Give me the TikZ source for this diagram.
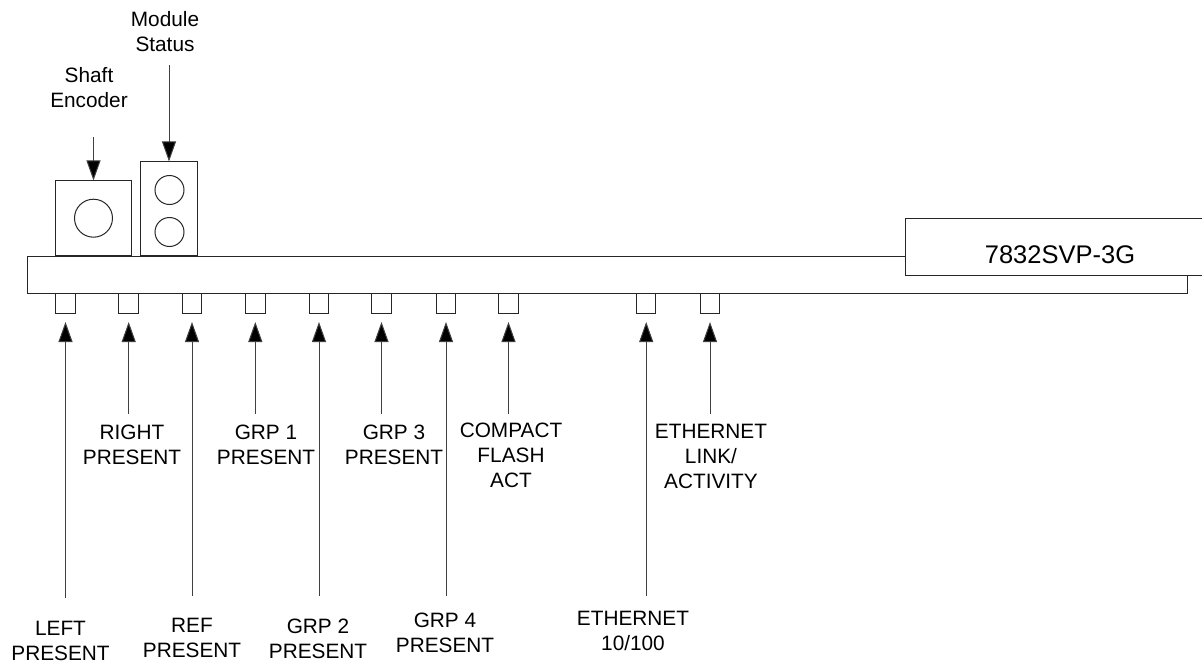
\documentclass[tikz,border=0pt]{standalone}
\usepackage{fontspec}
\setmainfont{Liberation Sans}
\usetikzlibrary{arrows.meta}
\tikzset{
  x=1pt,y=-1pt,
  part/.style={draw=black!85,line width=1pt,fill=white,inner sep=0pt,outer sep=0pt},
  led/.style={part,minimum width=19.5pt,minimum height=19.5pt},
  knob/.style={part,circle},
  lab/.style={align=center,inner sep=0pt,font=\fontsize{20.8}{25}\selectfont},
  arr/.style={draw=black!75,line width=1pt,-{Triangle[length=20pt,width=14pt,fill=black]}},
}
\begin{document}
\begin{tikzpicture}
\useasboundingbox (0,0) rectangle (1202,664);
\node[part,minimum width=1160pt,minimum height=37.5pt] (bar) at (607.5,275) {};
\node[part,minimum width=320pt,minimum height=57pt] (card) at (1065,246.5) {};
\node[font=\fontsize{25.5}{28}\selectfont,inner sep=0pt] (cardtxt) at (1060,255) {7832SVP-3G};
\node[part,minimum width=75.5pt,minimum height=75.5pt] (shaft) at (93.5,218.2) {};
\node[knob,minimum size=38pt] (shaftk) at (93.5,218.2) {};
\node[part,minimum width=56.5pt,minimum height=94.5pt] (mod) at (169,208.7) {};
\node[knob,minimum size=29pt] (m1) at (169.5,190) {};
\node[knob,minimum size=29pt] (m2) at (169.5,232) {};
\foreach \n/\x in {a/65.5,b/128.7,c/192,d/255.3,e/319,f/381.5,g/446,h/508.5,i/646.2,j/710}{
  \node[led] (\n) at (\x,303.5) {};
}
\foreach \n/\x/\y in {a/65.5/598,b/128.7/414,c/192/596,d/255.3/414,e/319/596,f/381.5/414,g/446/596,h/508.5/414,i/646.2/596,j/710/414}{
  \coordinate (s\n) at (\x,\y);
  \coordinate (t\n) at (\x,322);
  \draw[arr] (s\n) -- (t\n);
}
\coordinate (sshaft) at (93.5,137);
\draw[arr] (sshaft) -- (shaft.north);
\coordinate (smod) at (169,65);
\draw[arr] (smod) -- (mod.north);
\node[lab] (lshaft) at (89,87.5) {Shaft\\Encoder};
\node[lab] (lmod) at (165,31.5) {Module\\Status};
\node[lab] (la) at (60.5,640.5) {LEFT\\PRESENT};
\node[lab] (lc) at (192,638) {REF\\PRESENT};
\node[lab] (le) at (318,639) {GRP 2\\PRESENT};
\node[lab] (lg) at (445,633) {GRP 4\\PRESENT};
\node[lab] (li) at (633,631) {ETHERNET\\10/100};
\node[lab] (lb) at (132,445) {RIGHT\\PRESENT};
\node[lab] (ld) at (266,445) {GRP 1\\PRESENT};
\node[lab] (lf) at (394,445) {GRP 3\\PRESENT};
\node[lab] (lh) at (511,455) {COMPACT\\FLASH\\ACT};
\node[lab] (lj) at (711,456) {ETHERNET\\LINK/\\ACTIVITY};
\end{tikzpicture}
\end{document}
